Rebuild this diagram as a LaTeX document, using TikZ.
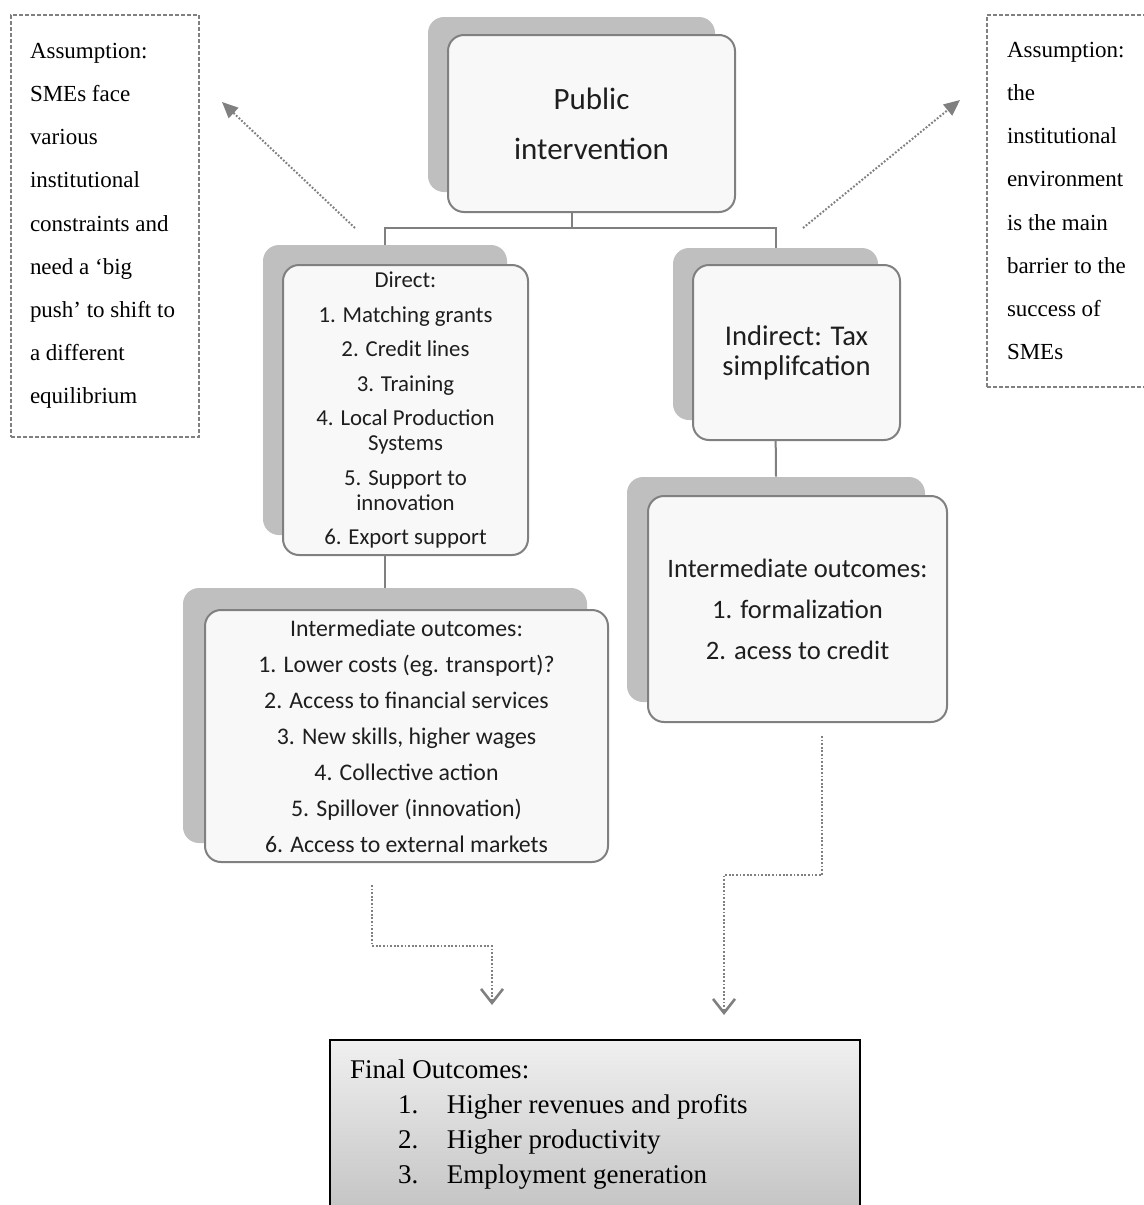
\documentclass[tikz,border=0pt]{standalone}
\usepackage{fontspec}
\setmainfont{Liberation Serif}
\newfontfamily\boxfont{Carlito}
\usetikzlibrary{arrows.meta,backgrounds}
\definecolor{linegray}{HTML}{808080}
\definecolor{shadegray}{HTML}{BFBFBF}
\definecolor{boxfill}{HTML}{F8F8F8}
\definecolor{inkgray}{HTML}{1E1E1E}

\begin{document}
\begin{tikzpicture}[x=0.5pt,y=-0.5pt,
	back/.style={rectangle, rounded corners=8pt, fill=shadegray, inner sep=0pt},
	front/.style={rectangle, rounded corners=8pt, draw=linegray, line width=1pt, fill=boxfill, inner sep=0pt, align=center, text=inkgray},
	note/.style={rectangle, draw=linegray, dash pattern=on 2pt off 1pt, line width=0.6pt, inner xsep=9.5pt, inner ysep=0pt, align=flush left, font=\fontsize{11.5}{21.6}\selectfont},
	outcome/.style={rectangle, draw=black, line width=1pt, top color=black!6, bottom color=black!23, inner xsep=10pt, inner ysep=0pt, align=flush left, font=\fontsize{13.5}{17.5}\selectfont},
	link/.style={draw=linegray, line width=1pt},
	hint/.style={draw=linegray, line width=1pt, dash pattern=on 0.9pt off 0.9pt}]

	\useasboundingbox (0,0) rectangle (1144,1205);

	% assumptions
	\node 	(asl)		at	(105,226) 	[note, minimum width=94pt, minimum height=211pt, text width=75pt]{Assumption:\\SMEs face\\various\\institutional\\constraints and\\need a `big\\push' to shift to\\a different\\equilibrium};

	\node 	(asr)		at	(1073.5,201) 	[note, minimum width=86.5pt, minimum height=186pt, inner xsep=10pt, text width=66.5pt]{Assumption:\\the\\institutional\\environment\\is the main\\barrier to the\\success of\\SMEs};

	% public intervention
	\node 	(pubsh)		at	(571.5,104.5) 	[back, minimum width=143.5pt, minimum height=87.5pt]{};
	\node 	(pub)		at	(591.5,123.5) 	[front, minimum width=143.5pt, minimum height=88.5pt, font=\boxfont\fontsize{15.5}{25}\selectfont]{Public\\intervention};

	% direct
	\node 	(dirsh)		at	(385,390) 	[back, minimum width=122pt, minimum height=145pt]{};
	\node 	(dir)		at	(405.5,410) 	[front, minimum width=122.5pt, minimum height=145pt, font=\boxfont\fontsize{11.4}{12.5}\selectfont]{Direct:\\[4.75pt]1. Matching grants\\[4.75pt]2. Credit lines\\[4.75pt]3. Training\\[4.75pt]4. Local Production\\Systems\\[4.75pt]5. Support to\\innovation\\[4.75pt]6. Export support};

	% indirect
	\node 	(indsh)		at	(775.5,334) 	[back, minimum width=102.5pt, minimum height=86pt]{};
	\node 	(ind)		at	(796.5,352.5) 	[front, minimum width=103.5pt, minimum height=87.5pt, font=\boxfont\fontsize{14.3}{15}\selectfont]{Indirect: Tax\\simplifcation};

	% intermediate outcomes
	\node 	(midlsh)	at	(385,715.5) 	[back, minimum width=202pt, minimum height=127.5pt]{};
	\node 	(midl)		at	(406.5,736) 	[front, minimum width=201.5pt, minimum height=126pt, font=\boxfont\fontsize{11.9}{18}\selectfont]{Intermediate outcomes:\\1. Lower costs (eg. transport)?\\2. Access to financial services\\3. New skills, higher wages\\4. Collective action\\5. Spillover (innovation)\\6. Access to external markets};

	\node 	(midrsh)	at	(776,589.5) 	[back, minimum width=149pt, minimum height=112.5pt]{};
	\node 	(midr)		at	(797.5,609) 	[front, minimum width=149.5pt, minimum height=113pt, font=\boxfont\fontsize{13.3}{20.5}\selectfont]{Intermediate outcomes:\\1. formalization\\2. acess to credit};

	% final outcomes
	\node 	(final)		at	(595,1125) 	[outcome, minimum width=265pt, minimum height=85pt, text width=245pt]{Final Outcomes:\\
		\hspace*{24pt}\makebox[24.5pt][l]{1.}Higher revenues and profits\\
		\hspace*{24pt}\makebox[24.5pt][l]{2.}Higher productivity\\
		\hspace*{24pt}\makebox[24.5pt][l]{3.}Employment generation};

	\begin{scope}[on background layer]
	\draw[link]	(pubsh.south)	--	++(0,36)	-|	(dirsh.north);
	\draw[link]	(pubsh.south)	--	++(0,36)	-|	(indsh.north);
	\draw[link]	(dirsh.south)	to	(midlsh.north);
	\draw[link]	(indsh.south)	to	(midrsh.north);
	\end{scope}

	\coordinate	(hl0)	at	(355,228);
	\coordinate	(hl1)	at	(222,102);
	\coordinate	(hr0)	at	(803,228);
	\coordinate	(hr1)	at	(960,100);
	\coordinate	(dl0)	at	(372,885);
	\coordinate	(dl1)	at	(492,1005);
	\coordinate	(dr0)	at	(822,736);
	\coordinate	(dr1)	at	(724,1015);

	\draw[hint, -{Triangle[length=8pt,width=7pt]}]	(hl0)	to	(hl1);
	\draw[hint, -{Triangle[length=8pt,width=7pt]}]	(hr0)	to	(hr1);

	\draw[hint, -{Straight Barb[length=7pt,width=11pt,line width=1.3pt]}]	(dl0)	--	++(0,61)	-|	(dl1);
	\draw[hint, -{Straight Barb[length=7pt,width=11pt,line width=1.3pt]}]	(dr0)	--	++(0,139)	-|	(dr1);

\end{tikzpicture}
\end{document}
